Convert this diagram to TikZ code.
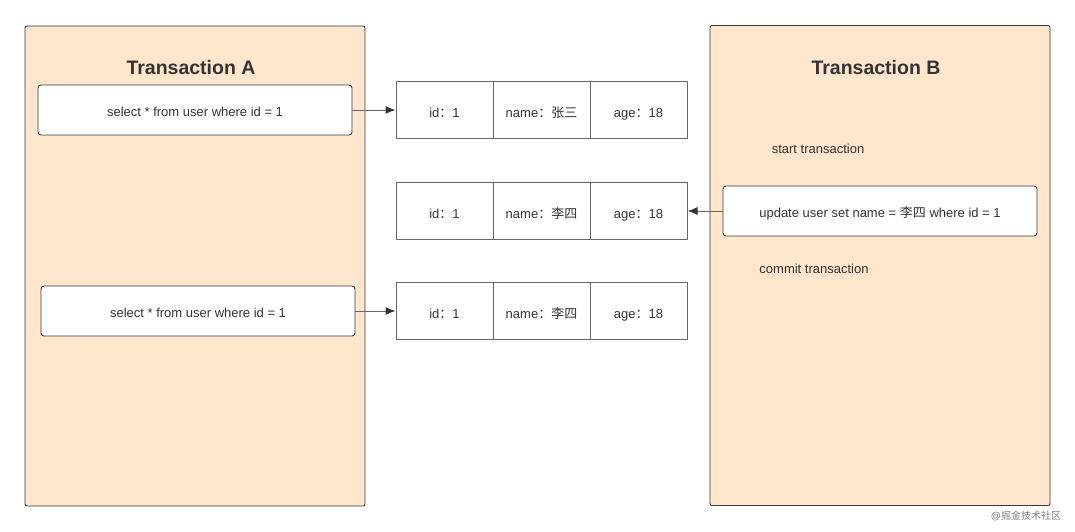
\documentclass[tikz,border=0pt]{standalone}
\usepackage{fontspec}
\setmainfont{Liberation Sans}
\newfontfamily\cjk{Noto Sans CJK SC}
\usetikzlibrary{arrows.meta}
\definecolor{peach}{HTML}{FFE6CC}
\definecolor{edge}{HTML}{36393D}
\definecolor{txt}{HTML}{333333}
\definecolor{grid}{HTML}{666666}
\begin{document}
\begin{tikzpicture}[x=1pt, y=-1pt, line join=round, font=\fontsize{13}{15}\selectfont, text=txt]
\tikzstyle{panel} = [draw=edge, fill=peach, line width=0.9pt, rounded corners=2pt, minimum width=340pt, minimum height=480pt, inner sep=0pt]
\tikzstyle{title} = [font=\fontsize{19.5}{22}\selectfont\bfseries]
\tikzstyle{plain} = [text height=12pt, text depth=0pt, inner sep=0pt]
\tikzstyle{stmt} = [draw=edge, fill=white, line width=0.9pt, rounded corners=3pt, minimum width=314pt, minimum height=50pt, inner sep=0pt, text height=12.5pt, text depth=0pt]
\tikzstyle{cell} = [draw=grid, fill=white, line width=1pt, minimum width=97pt, minimum height=57pt, inner sep=0pt, text height=14pt, text depth=0pt]
\tikzstyle{link} = [draw=grid, line width=1pt, -{Latex[length=10pt,width=8pt,color=txt]}]
  \useasboundingbox (0,0) rectangle (1075,531);
  % the two transactions
  \node[panel] (ta) at (195,266) {};
  \node[panel] (tb) at (880,265.5) {};
  \node[title] (tta) at (191,68) {Transaction A};
  \node[title] (ttb) at (876,68) {Transaction B};
  \node[stmt] (sa1) at (195,110) {select * from user where id = 1};
  \node[stmt] (sa2) at (198,311) {select * from user where id = 1};
  \node[plain] (start) at (818,147) {start transaction};
  \node[stmt] (sb) at (880,211) {update user set name = {\cjk 李四} where id = 1};
  \node[plain] (commit) at (814,267) {commit transaction};
  % rows of the user table
  \foreach \r/\y/\nm in {1/110/张三,2/211/李四,3/311/李四}{
    \node[cell] (r\r c1) at (444.5,\y) {id{\cjk ：}1};
    \node[cell] (r\r c2) at (541.5,\y) {name{\cjk ：\nm}};
    \node[cell] (r\r c3) at (638.5,\y) {age{\cjk ：}18};
  }
  \draw[link] (sa1.east) -- (r1c1.west);
  \draw[link] (sb.west) -- (r2c3.east);
  \draw[link] (sa2.east) -- (r3c1.west);
  \node[text=gray, font=\fontsize{10}{12}\selectfont] (mark) at (1026,516) {@{\cjk 掘金技术社区}};
\end{tikzpicture}
\end{document}
